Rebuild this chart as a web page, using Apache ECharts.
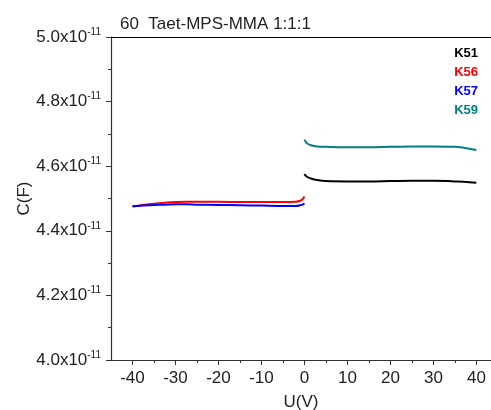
<!DOCTYPE html>
<html>
<head>
<meta charset="utf-8">
<script src="https://cdn.jsdelivr.net/npm/echarts@6/dist/echarts.min.js"></script>
<style>html,body{margin:0;padding:0;background:#fff}#c{width:491px;height:410px}</style>
</head>
<body>
<div id="c"></div>
<script>
// Capacitance values in units of 1e-11 F
const uNeg = [-40, -37.5, -35, -32.5, -30, -27.5, -25, -20, -15, -10, -5, -2, -1, -0.3, 0];
const k56 = [4.475, 4.480, 4.484, 4.487, 4.489, 4.490, 4.490, 4.490, 4.489, 4.489, 4.489, 4.490, 4.493, 4.500, 4.506];
const k57 = [4.476, 4.478, 4.480, 4.481, 4.482, 4.482, 4.481, 4.480, 4.479, 4.478, 4.477, 4.477, 4.479, 4.482, 4.485];
const uPos = [0, 0.5, 1.5, 3, 5, 10, 15, 20, 25, 30, 35, 37, 40];
const k51 = [4.576, 4.568, 4.562, 4.557, 4.554, 4.553, 4.553, 4.554, 4.555, 4.555, 4.553, 4.552, 4.549];
const k59 = [4.682, 4.672, 4.665, 4.661, 4.660, 4.659, 4.659, 4.660, 4.661, 4.661, 4.660, 4.657, 4.650];
const xMajorTicks = [-40, -30, -20, -10, 0, 10, 20, 30, 40];
const xMinorTicks = [-35, -25, -15, -5, 5, 15, 25, 35];
const seriesNames = ['K51', 'K56', 'K57', 'K59'];
const seriesColors = ['#000000', '#ff0000', '#0000ff', '#008080'];
const titleText = '60  Taet-MPS-MMA 1:1:1';

const pair = (xs, ys) => xs.map((x, i) => [x, ys[i]]);
const font = 'Liberation Sans, Arial, sans-serif';
const axisColor = '#333';
const X_MIN = -45, X_MAX = 43.4;

const chart = echarts.init(document.getElementById('c'), null, {renderer: 'canvas'});
const dataSets = [pair(uPos, k51), pair(uNeg, k56), pair(uNeg, k57), pair(uPos, k59)];

chart.setOption({
  animation: false,
  backgroundColor: '#fff',
  title: {
    text: titleText, left: 115, top: 11,
    textStyle: {fontFamily: font, fontSize: 17, fontWeight: 'normal', color: '#222'}
  },
  legend: {
    orient: 'vertical', right: 13, top: 47, itemWidth: 0, itemHeight: 0, itemGap: 6,
    icon: 'none', padding: 0,
    data: seriesNames.map((n, i) => ({name: n, textStyle: {color: seriesColors[i]}})),
    textStyle: {fontFamily: font, fontSize: 13, fontWeight: 'bold'}
  },
  grid: {left: 111, top: 37, right: 0, bottom: 50, containLabel: false, outerBoundsMode: 'none'},
  xAxis: [
    {
      type: 'value', min: X_MIN, max: X_MAX, interval: 5, position: 'bottom',
      name: 'U(V)', nameLocation: 'middle', nameGap: 34,
      nameTextStyle: {fontFamily: font, fontSize: 17, color: '#222'},
      axisLine: {show: true, onZero: false, lineStyle: {color: axisColor, width: 1.2}},
      axisTick: {show: true, inside: false, length: 5, customValues: xMajorTicks, lineStyle: {color: axisColor}},
      axisLabel: {customValues: xMajorTicks, margin: 10, fontFamily: font, fontSize: 17, color: '#222'},
      splitLine: {show: false}
    },
    {
      type: 'value', min: X_MIN, max: X_MAX, interval: 5, position: 'bottom',
      axisLine: {show: false, onZero: false},
      axisTick: {show: true, length: 3, customValues: xMinorTicks, lineStyle: {color: axisColor}},
      axisLabel: {show: false},
      splitLine: {show: false}
    },
    {
      type: 'value', min: X_MIN, max: X_MAX, interval: 5, position: 'top',
      axisLine: {show: true, onZero: false, lineStyle: {color: '#000', width: 1.2}},
      axisTick: {show: false}, axisLabel: {show: false}, splitLine: {show: false}
    }
  ],
  yAxis: {
    type: 'value', min: 4.0, max: 5.0, interval: 0.2,
    name: 'C(F)', nameLocation: 'middle', nameGap: 78, nameMoveOverlap: false,
    nameTextStyle: {fontFamily: font, fontSize: 17, color: '#222'},
    axisLine: {show: true, onZero: false, lineStyle: {color: axisColor, width: 1.2}},
    axisTick: {show: true, length: 5, lineStyle: {color: axisColor}},
    minorTick: {show: true, splitNumber: 2, length: 3, lineStyle: {color: axisColor}},
    axisLabel: {
      margin: 10,
      formatter: v => '{a|' + v.toFixed(1) + 'x10}{b|-11}',
      rich: {
        a: {fontFamily: font, fontSize: 17, color: '#222'},
        b: {fontFamily: font, fontSize: 10, color: '#222', padding: [0, 0, 10, 0]}
      }
    },
    splitLine: {show: false}
  },
  series: seriesNames.map((n, i) => ({
    name: n, type: 'line', xAxisIndex: 0, data: dataSets[i], smooth: 0.4,
    showSymbol: false, symbol: 'none', color: seriesColors[i],
    lineStyle: {width: 2, color: seriesColors[i]}
  }))
});
</script>
</body>
</html>
